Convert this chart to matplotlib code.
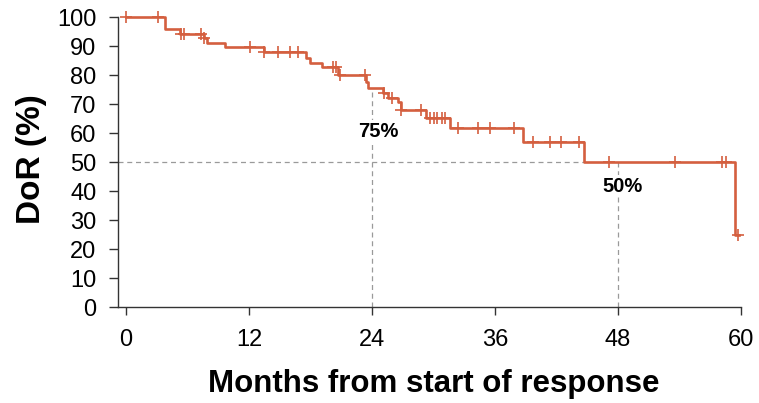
import numpy as np
import matplotlib
matplotlib.use("Agg")
import matplotlib.pyplot as plt

plt.rcParams['font.family'] = ['Liberation Sans', 'DejaVu Sans']

# Kaplan-Meier step curve: event times (months) and DoR (%) after each step
step_times = [0, 3.8, 5.3, 7.6, 7.9, 9.7, 13.5, 17.6, 18.0, 19.1, 20.7,
              23.4, 23.6, 25.1, 25.6, 26.5, 26.8, 29.3, 31.6, 38.7, 44.7, 59.4]
step_surv = [100, 95.7, 94.1, 92.9, 91.1, 89.5, 87.8, 86.0, 84.0, 82.6, 80.0,
             77.7, 75.4, 73.7, 72.2, 70.6, 67.9, 65.1, 61.6, 57.0, 50.0, 24.8]
end_time = 59.8

# censored patients (months)
censor_times = [0, 3.1, 5.4, 5.7, 7.3, 7.6, 12.1, 13.5, 14.8, 16.0, 16.8,
                20.2, 20.5, 20.9, 23.3, 25.2, 26.0, 26.8, 28.8, 29.7, 30.1,
                30.4, 30.8, 31.1, 32.4, 34.4, 35.5, 37.9, 39.7, 41.4, 42.5,
                44.2, 47.1, 53.6, 58.2, 58.6, 59.7]

# landmark readouts
landmark_months = [24, 48]
landmark_labels = ["75%", "50%"]
median_dor = 44.7

xticks = [0, 12, 24, 36, 48, 60]
yticks = list(range(0, 101, 10))

km_color = '#D45F3F'


def surv_at(t):
    idx = np.searchsorted(step_times, t, side='right') - 1
    return np.array(step_surv)[idx]


fig = plt.figure(figsize=(7.59, 4.03), dpi=100)
ax = fig.add_axes([0.1552, 0.2382, 0.8316, 0.734])

# step curve
xs = list(step_times) + [end_time]
ys = list(step_surv) + [step_surv[-1]]
ax.step(xs, ys, where='post', color=km_color, lw=1.9, zorder=3)
ax.plot(censor_times, surv_at(np.array(censor_times)), linestyle='none',
        marker='+', ms=8, mew=1.2, color=km_color, zorder=4)

# reference lines
dash = dict(color='#9a9a9a', lw=0.9, ls=(0, (4, 3)), zorder=2)
ax.plot([-0.8, median_dor], [50, 50], **dash)
for m in landmark_months:
    ax.plot([m, m], [0, surv_at(m)], **dash)

ax.text(24.6, 60.6, landmark_labels[0], ha='center', va='center',
        fontsize=14.5, fontweight='bold', zorder=5,
        bbox=dict(facecolor='white', edgecolor='none', pad=1))
ax.text(48.5, 41.6, landmark_labels[1], ha='center', va='center',
        fontsize=14.5, fontweight='bold', zorder=5,
        bbox=dict(facecolor='white', edgecolor='none', pad=1))

ax.set_xlim(-0.8, 60.8)
ax.set_ylim(0, 102)
ax.set_xticks(xticks)
ax.set_yticks(yticks)
ax.tick_params(axis='both', labelsize=17, width=1, color='#333333')
ax.tick_params(axis='x', length=6, pad=10)
ax.tick_params(axis='y', length=6.5, pad=9)

for s in ['top', 'right']:
    ax.spines[s].set_visible(False)
ax.spines['left'].set_bounds(0, 100)
ax.spines['bottom'].set_bounds(-0.8, 60)
for s in ['left', 'bottom']:
    ax.spines[s].set_color('#333333')
    ax.spines[s].set_linewidth(1)

ax.set_xlabel('Months from start of response', fontsize=22.5,
              fontweight='bold', labelpad=13)
ax.set_ylabel('DoR (%)', fontsize=24, fontweight='bold', labelpad=7)

fig.savefig('out.png', dpi=100)
